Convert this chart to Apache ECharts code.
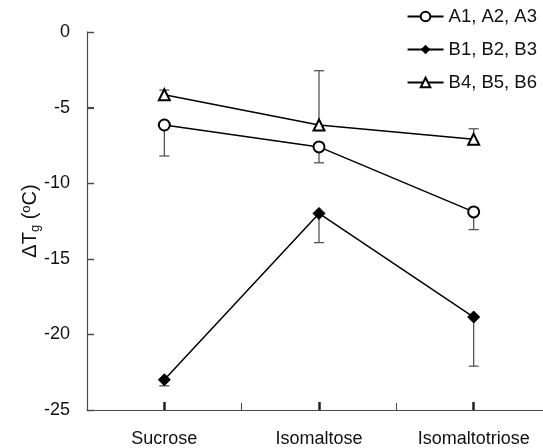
<!DOCTYPE html>
<html>
<head>
<meta charset="utf-8">
<script src="https://cdn.jsdelivr.net/npm/echarts@6/dist/echarts.min.js"></script>
<style>
  html, body { margin: 0; padding: 0; background: #fff; }
  #main { width: 543px; height: 448px; }
</style>
</head>
<body>
<div id="main"></div>
<script>
// categories and series values
var sugars = ['Sucrose', 'Isomaltose', 'Isomaltotriose'];
var yTicks = [0, -5, -10, -15, -20, -25];

var seriesNames = ['A1, A2, A3', 'B1, B2, B3', 'B4, B5, B6'];
var aValues = [-6.15, -7.6, -11.9];
var bValues = [-23.0, -12.0, -18.85];
var cValues = [-4.15, -6.15, -7.1];

// end point of each (one-sided) error bar
var aErrEnd = [-8.2, -8.65, -13.07];
var bErrEnd = [-23.4, -13.93, -22.1];
var cErrEnd = [-3.84, -2.56, -6.4];

var font = 'Arial, "Liberation Sans", sans-serif';
var axisColor = '#4a4a4a';

function errData(vals, ends) {
  return vals.map(function (v, i) { return [i, v, ends[i]]; });
}

function errBars(p, api) {
  var x = api.value(0);
  var p0 = api.coord([x, api.value(1)]);
  var p1 = api.coord([x, api.value(2)]);
  var style = { stroke: '#555', lineWidth: 1.3 };
  return {
    type: 'group',
    children: [
      { type: 'line', shape: { x1: p0[0], y1: p0[1], x2: p1[0], y2: p1[1] }, style: style },
      { type: 'line', shape: { x1: p1[0] - 5, y1: p1[1], x2: p1[0] + 5, y2: p1[1] }, style: style }
    ]
  };
}

// inner y ticks: left edge of the first category band, y from the value scale
function yTickMarks(p, api) {
  var pt = api.coord([0, api.value(1)]);
  var band = api.size([1, 0])[0];
  var x = pt[0] - band / 2;
  var y = Math.round(pt[1]) + 0.5;
  return {
    type: 'line',
    shape: { x1: x, y1: y, x2: x + 7, y2: y },
    style: { stroke: axisColor, lineWidth: 1.3 }
  };
}

var myChart = echarts.init(document.getElementById('main'));

var lineStyle = { color: '#000', width: 1.5 };

myChart.setOption({
  animation: false,
  textStyle: { fontFamily: font },
  legend: {
    orient: 'vertical',
    right: 1,
    top: 2,
    itemWidth: 36,
    itemHeight: 12,
    itemGap: 14,
    textStyle: { fontSize: 18.5, color: '#111', fontFamily: font },
    data: seriesNames
  },
  grid: { left: 87, right: -8, top: 32, bottom: 38, outerBoundsMode: 'none', containLabel: false },
  xAxis: [{
    type: 'category',
    data: sugars,
    axisLine: { onZero: false, lineStyle: { color: axisColor, width: 1.2 } },
    axisTick: { show: true, alignWithLabel: true, inside: true, length: 8, lineStyle: { color: '#222', width: 2.5 } },
    axisLabel: { margin: 20, fontSize: 18, color: '#111', fontFamily: font },
    splitLine: { show: false }
  }, {
    type: 'category',
    data: sugars,
    position: 'bottom',
    axisLine: { show: false, onZero: false },
    axisTick: { show: true, inside: true, length: 7, lineStyle: { color: axisColor, width: 1 } },
    axisLabel: { show: false },
    splitLine: { show: false }
  }],
  yAxis: {
    type: 'value',
    min: -25,
    max: 0,
    interval: 5,
    name: '{a|ΔT}{sub|g}{a| (}{sup|o}{a|C)}',
    nameLocation: 'middle',
    nameGap: 44,
    nameMoveOverlap: false,
    nameRotate: 90,
    nameTextStyle: {
      fontSize: 20,
      rich: {
        a: { fontSize: 20, color: '#111', fontFamily: font, lineHeight: 26, verticalAlign: 'middle' },
        sub: { fontSize: 13, color: '#111', fontFamily: font, lineHeight: 26, verticalAlign: 'bottom', padding: [0, 0, 1, 0] },
        sup: { fontSize: 13, color: '#111', fontFamily: font, lineHeight: 26, verticalAlign: 'top', padding: [3, 0, 0, 0] }
      }
    },
    axisLine: { show: true, onZero: false, lineStyle: { color: axisColor, width: 1.2 } },
    axisTick: { show: true, inside: true, length: 7, lineStyle: { color: axisColor, width: 1.2 } },
    axisLabel: { margin: 17, fontSize: 18, color: '#111', fontFamily: font },
    splitLine: { show: false }
  },
  series: [
    {
      type: 'custom', renderItem: yTickMarks, silent: true, z: 5, clip: false,
      data: yTicks.map(function (v) { return [0, v]; })
    },
    { type: 'custom', renderItem: errBars, data: errData(aValues, aErrEnd), z: 1, silent: true },
    { type: 'custom', renderItem: errBars, data: errData(bValues, bErrEnd), z: 1, silent: true },
    { type: 'custom', renderItem: errBars, data: errData(cValues, cErrEnd), z: 1, silent: true },
    {
      name: seriesNames[0], type: 'line', data: aValues, z: 3,
      symbol: 'emptyCircle', symbolSize: 11,
      lineStyle: lineStyle,
      itemStyle: { color: '#000', borderColor: '#000', borderWidth: 1.5 }
    },
    {
      name: seriesNames[1], type: 'line', data: bValues, z: 3,
      symbol: 'diamond', symbolSize: 12,
      lineStyle: lineStyle,
      itemStyle: { color: '#000', borderColor: '#000' }
    },
    {
      name: seriesNames[2], type: 'line', data: cValues, z: 3,
      symbol: 'emptyTriangle', symbolSize: 11,
      lineStyle: lineStyle,
      itemStyle: { color: '#000', borderColor: '#000', borderWidth: 1.5 }
    }
  ]
});
</script>
</body>
</html>
